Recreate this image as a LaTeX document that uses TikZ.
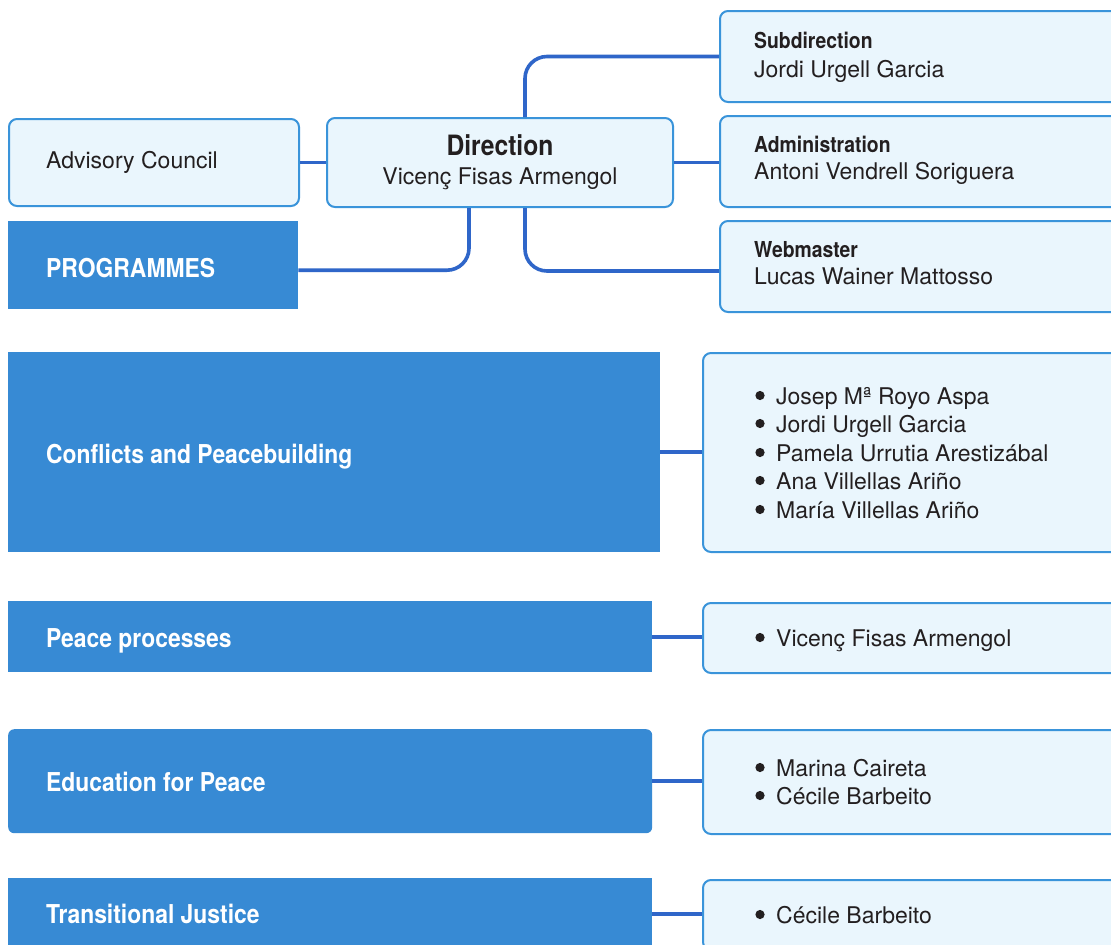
\documentclass[tikz,border=0pt]{standalone}
\usepackage{fontspec}
\setmainfont{TeX Gyre Heros}
\newfontfamily\headfont{TeX Gyre Heros}[FakeStretch=0.88]
\usetikzlibrary{calc}
\definecolor{lightfill}{HTML}{EAF6FD}
\definecolor{boxborder}{HTML}{3A94DA}
\definecolor{darkfill}{HTML}{378AD4}
\definecolor{conncol}{HTML}{2F66C9}
\definecolor{textcol}{HTML}{231F20}
\tikzset{
  lbox/.style={draw=boxborder, line width=2pt, fill=lightfill, rounded corners=8pt, inner sep=0pt, anchor=north west},
  dbox/.style={fill=darkfill, inner sep=0pt, anchor=north west},
  conn/.style={draw=conncol, line width=3.6pt, rounded corners=22pt},
  nametext/.style={anchor=base west, inner sep=0pt, text=textcol, font=\fontsize{23}{28}\selectfont},
  headtext/.style={anchor=base west, inner sep=0pt, text=textcol, font=\headfont\bfseries\fontsize{22}{26}\selectfont},
  phead/.style={anchor=base west, inner sep=0pt, text=white, font=\headfont\bfseries\fontsize{26}{30}\selectfont},
  bulletdot/.style={circle, fill=textcol, minimum size=9.2pt, inner sep=0pt},
}
\begin{document}
\begin{tikzpicture}[x=1pt,y=-1pt]
\useasboundingbox (0,0) rectangle (1111,945);
\clip (0,0) rectangle (1111,945);
\fill[white] (0,0) rectangle (1111,945);

% top boxes
\node[lbox, minimum width=290, minimum height=87] (adv) at (8,118) {};
\node[lbox, minimum width=346, minimum height=89] (dir) at (326,117) {};
\node[lbox, minimum width=430, minimum height=91] (sub) at (719,10) {};
\node[lbox, minimum width=430, minimum height=91] (adm) at (719,115) {};
\node[lbox, minimum width=430, minimum height=91] (web) at (719,220) {};
\node[dbox, minimum width=290, minimum height=88] (prog) at (8,221) {};

% programme boxes
\node[dbox, minimum width=652, minimum height=200] (conf) at (8,352) {};
\node[lbox, minimum width=430, minimum height=199] (confl) at (702,352) {};
\node[dbox, minimum width=644, minimum height=71] (pp) at (8,601) {};
\node[lbox, minimum width=430, minimum height=70] (ppl) at (702,602) {};
\node[dbox, rounded corners=6pt, minimum width=644, minimum height=104] (edu) at (8,729) {};
\node[lbox, minimum width=430, minimum height=104] (edul) at (702,729) {};
\node[dbox, minimum width=644, minimum height=72] (tj) at (8,878) {};
\node[lbox, minimum width=430, minimum height=70] (tjl) at (702,879) {};

% connectors
\draw[conn] (adv.east) -- (dir.west);
\draw[conn] (dir.east) -- (dir.east -| adm.west);
\draw[conn] ($(dir.north west)+(199,0)$) |- (sub.west);
\draw[conn] ($(dir.south west)+(199,0)$) |- ($(web.west)+(0,4.5)$);
\draw[conn] ($(dir.south west)+(143,0)$) |- ($(prog.east)+(0,5)$);
\draw[conn] (conf.east) -- (conf.east -| confl.west);
\draw[conn] (pp.east) -- (pp.east -| ppl.west);
\draw[conn] (edu.east) -- (edu.east -| edul.west);
\draw[conn] (tj.east) -- (tj.east -| tjl.west);

% texts top
\node[nametext] (advt) at (46,168) {Advisory Council};
\node[anchor=base, inner sep=0pt, text=textcol, font=\headfont\bfseries\fontsize{28}{32}\selectfont] (dirt) at (500,155) {Direction};
\node[anchor=base, inner sep=0pt, text=textcol, font=\fontsize{23}{28}\selectfont] (dirn) at (500,184) {Vicenç Fisas Armengol};
\node[headtext] (subt) at (754,48) {Subdirection};
\node[nametext] (subn) at (754,77) {Jordi Urgell Garcia};
\node[headtext] (admt) at (754,152) {Administration};
\node[nametext] (admn) at (754,179) {Antoni Vendrell Soriguera};
\node[headtext] (webt) at (754,257) {Webmaster};
\node[nametext] (webn) at (754,284) {Lucas Wainer Mattosso};
\node[phead] (progt) at (46,277) {PROGRAMMES};

% programme headings
\node[phead] (conft) at (46,463) {Conflicts and Peacebuilding};
\node[phead] (ppt) at (46,647) {Peace processes};
\node[phead] (edut) at (46,791) {Education for Peace};
\node[phead] (tjt) at (46,923) {Transitional Justice};

% lists
\foreach \y/\t [count=\i] in {404/Josep Mª Royo Aspa, 432/Jordi Urgell Garcia, 461/Pamela Urrutia Arestizábal, 489/Ana Villellas Ariño, 518/María Villellas Ariño}{
  \node[bulletdot] (cb\i) at (760,\y-8.5) {};
  \node[nametext] (cn\i) at (776,\y) {\t};
}
\node[bulletdot] (pb1) at (760,646-8.5) {};
\node[nametext] (pn1) at (776,646) {Vicenç Fisas Armengol};
\node[bulletdot] (eb1) at (760,776-8.5) {};
\node[nametext] (en1) at (776,776) {Marina Caireta};
\node[bulletdot] (eb2) at (760,804-8.5) {};
\node[nametext] (en2) at (776,804) {Cécile Barbeito};
\node[bulletdot] (tb1) at (760,923-8.5) {};
\node[nametext] (tn1) at (776,923) {Cécile Barbeito};
\end{tikzpicture}
\end{document}
